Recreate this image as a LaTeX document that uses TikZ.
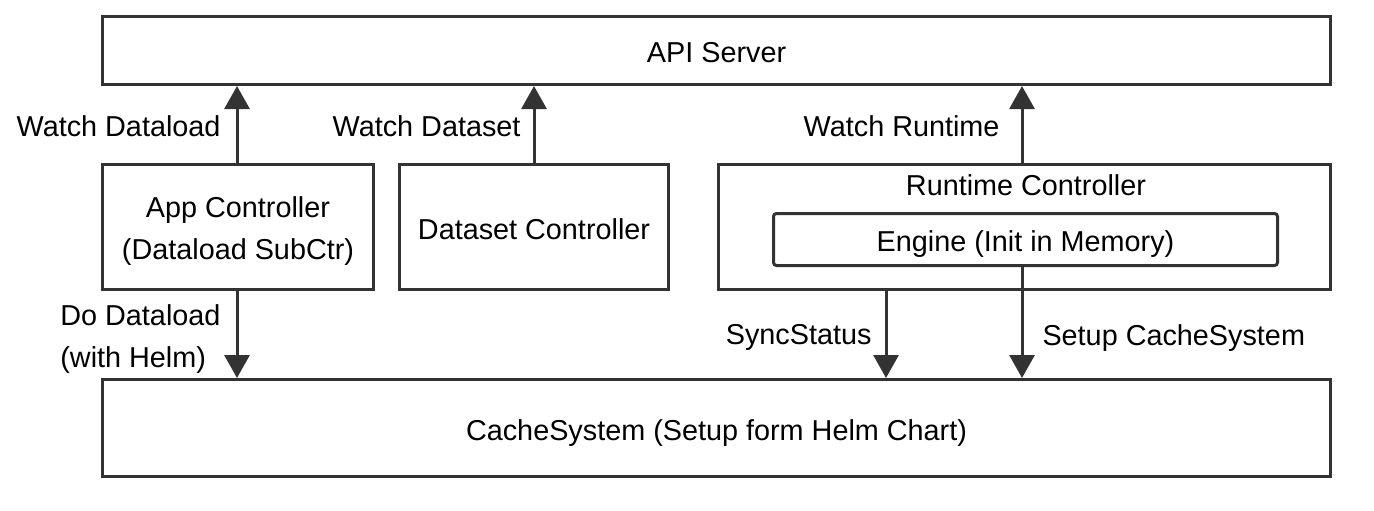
\documentclass[tikz,border=0pt]{standalone}
\usepackage{fontspec}
\setmainfont{Liberation Sans}
\usetikzlibrary{arrows.meta}
\definecolor{linegray}{HTML}{333333}

\begin{document}
\begin{tikzpicture}[x=0.5pt,y=-0.5pt,
  box/.style={draw=linegray,line width=1.5pt,inner sep=0pt,text height=12.4pt,text depth=0pt,font=\fontsize{14.4}{17}\selectfont},
  arr/.style={draw=linegray,line width=1.5pt,-{Triangle[length=11.5pt,width=12.5pt]}},
  lbl/.style={inner sep=0pt,font=\fontsize{14.4}{21}\selectfont}
  ]
  \useasboundingbox (0,0) rectangle (1374,510);

  % top and bottom layers
  \node[box,minimum width=614pt,minimum height=34pt] (api) at (716.5,50.5) {API Server};
  \node[box,minimum width=614pt,minimum height=48.5pt] (cache) at (716.5,428) {CacheSystem (Setup form Helm Chart)};

  % controllers
  \node[box,minimum width=135.5pt,minimum height=62.5pt] (app) at (238,227) {};
  \node[lbl,align=center] (apptext) at (238,231) {App Controller\\(Dataload SubCtr)};
  \node[box,minimum width=134.5pt,minimum height=62.5pt] (dataset) at (534,227) {Dataset Controller};
  \node[box,minimum width=306pt,minimum height=62.5pt] (runtime) at (1024.5,227) {};
  \node[lbl] (runtimetitle) at (1026,185) {Runtime Controller};
  \node[box,rounded corners=1.5pt,minimum width=252pt,minimum height=26pt] (engine) at (1025.5,239.5) {Engine (Init in Memory)};

  % watch arrows
  \draw[arr] ([xshift=-0.5pt]app.north) -- ([xshift=-0.5pt]app.north |- api.south)
    node[lbl,midway,left=7.5pt,yshift=-1pt] {Watch Dataload};
  \draw[arr] (dataset.north) -- (dataset.north |- api.south)
    node[lbl,midway,left=6pt,yshift=-1pt] {Watch Dataset};
  \draw[arr] ([xshift=-1.25pt]runtime.north) -- ([xshift=-1.25pt]runtime.north |- api.south)
    node[lbl,midway,left=10.5pt,yshift=-1pt] {Watch Runtime};

  % downward arrows
  \draw[arr] ([xshift=-0.5pt]app.south) -- ([xshift=-0.5pt]app.south |- cache.north)
    node[lbl,midway,left=7.5pt,align=left,yshift=-2.5pt] {Do Dataload\\(with Helm)};
  \draw[arr] ([xshift=-69.25pt]runtime.south) -- ([xshift=-69.25pt]runtime.south |- cache.north)
    node[lbl,midway,left=6.5pt,yshift=-1.5pt] {SyncStatus};
  \draw[arr] ([xshift=-1.75pt]engine.south) -- ([xshift=-1.75pt]engine.south |- cache.north)
    node[lbl,pos=0.61,right=9.5pt,yshift=-1.5pt] {Setup CacheSystem};
\end{tikzpicture}
\end{document}
